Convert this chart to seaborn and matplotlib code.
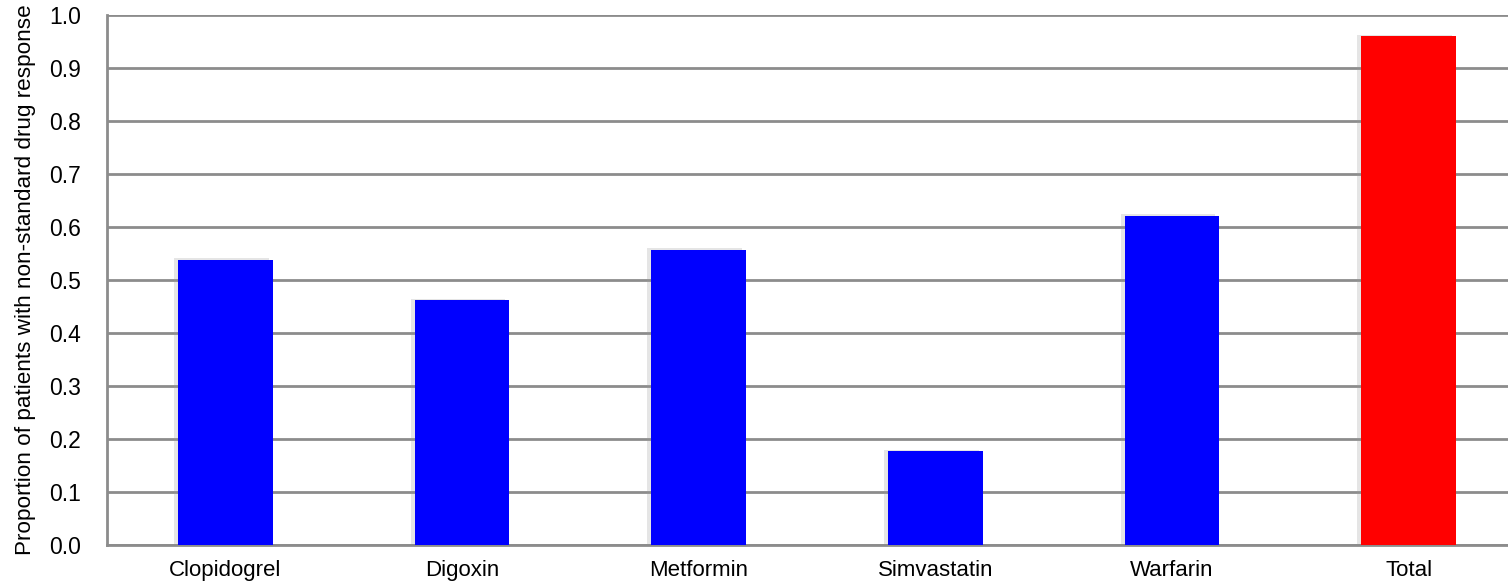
import matplotlib
matplotlib.use("Agg")
import matplotlib.pyplot as plt
import matplotlib.patheffects as pe
import seaborn as sns
import pandas as pd

# data
drugs = ["Clopidogrel", "Digoxin", "Metformin", "Simvastatin", "Warfarin", "Total"]
proportions = [0.538, 0.462, 0.557, 0.177, 0.621, 0.960]
bar_colors = ["#0000ff", "#0000ff", "#0000ff", "#0000ff", "#0000ff", "#ff0000"]

sns.set_theme(style="white")
plt.rcParams["font.family"] = ["Liberation Sans", "DejaVu Sans"]
plt.rcParams["text.color"] = "black"
plt.rcParams["xtick.labelcolor"] = "black"
plt.rcParams["ytick.labelcolor"] = "black"
plt.rcParams["axes.labelcolor"] = "black"

df = pd.DataFrame({"drug": drugs, "prop": proportions})

fig = plt.figure(figsize=(15.08, 5.87), dpi=100)
# plot area runs past the right edge of the picture, like the original
ax = fig.add_axes([0.071, 0.0716, 0.9416, 0.9028])
ax.set_clip_on(True)

sns.barplot(data=df, x="drug", y="prop", hue="drug", palette=bar_colors,
            legend=False, width=0.4, ax=ax, saturation=1, zorder=3,
            linewidth=0, edgecolor="none")
for bar in ax.patches:
    bar.set_path_effects([pe.SimplePatchShadow(offset=(-3, 1), shadow_rgbFace="#999999", alpha=0.25),
                          pe.Normal()])

grid_c = "#8c8c8c"
ax.set_ylim(0, 1.0)
ax.set_yticks([i / 10 for i in range(11)])
ax.set_yticklabels([f"{i / 10:.1f}" for i in range(11)], fontsize=16.5)
ax.yaxis.grid(True, color=grid_c, linewidth=2, zorder=0)
ax.set_axisbelow(True)
ax.set_xlim(-0.5, len(drugs) - 0.5)

# category ticks between bars, as in Excel
ax.set_xticks([i - 0.5 for i in range(len(drugs) + 1)], minor=False)
ax.set_xticklabels([])
ax.set_xticks(range(len(drugs)), minor=True)
ax.set_xticklabels(drugs, minor=True, fontsize=16)
ax.tick_params(axis="x", which="major", direction="out", length=5, width=2, color=grid_c)
ax.tick_params(axis="x", which="minor", length=0, pad=11)
ax.tick_params(axis="y", direction="out", length=5, width=2, color=grid_c, pad=14)

for side in ["top", "right"]:
    ax.spines[side].set_visible(False)
for side in ["left", "bottom"]:
    ax.spines[side].set_color(grid_c)
    ax.spines[side].set_linewidth(2)

ax.set_xlabel("")
ax.set_ylabel("Proportion of patients with non-standard drug response", fontsize=16.2, labelpad=9)

fig.savefig("out.png", dpi=100)
